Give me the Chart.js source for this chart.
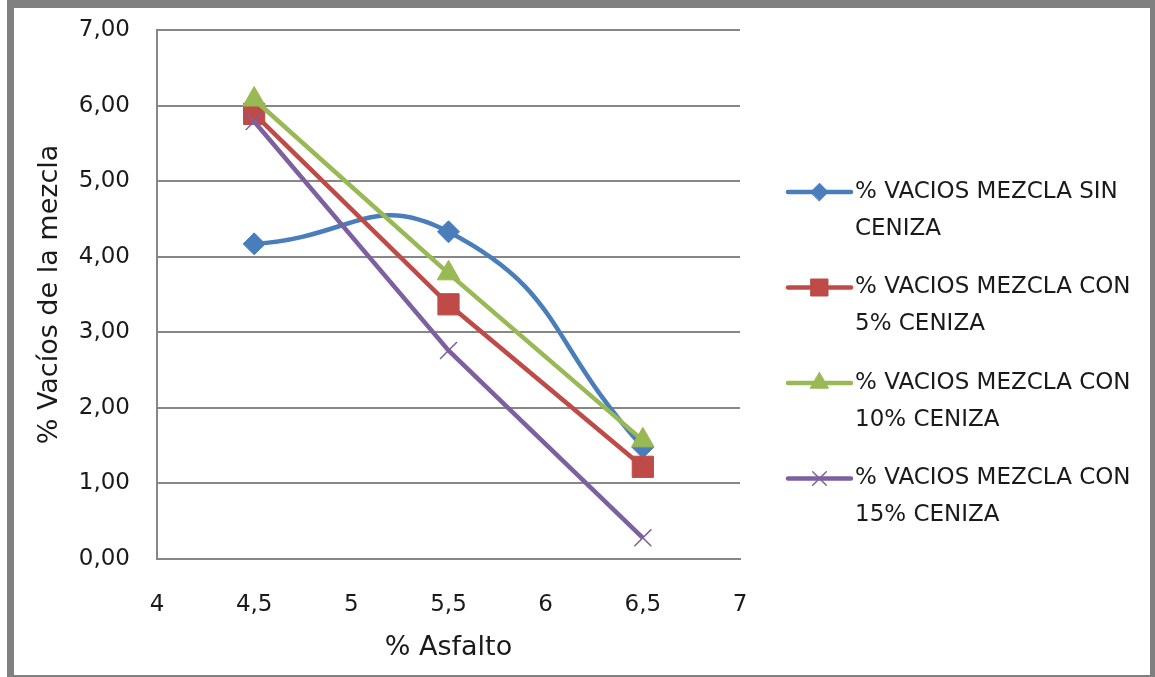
<!DOCTYPE html>
<html>
<head>
<meta charset="utf-8">
<script src="https://cdn.jsdelivr.net/npm/chart.js@4.4.1/dist/chart.umd.min.js"></script>
<style>
  html, body { margin: 0; padding: 0; background: #ffffff; }
  canvas { display: block; }
</style>
</head>
<body>
<canvas id="chart" width="1155" height="677"></canvas>
<script>
// % asphalt content (x values)
const asfalto = [4.5, 5.5, 6.5];

// % air voids for each mix
const sinCeniza = [4.17, 4.33, 1.48];
const con5Ceniza = [5.89, 3.37, 1.22];
const con10Ceniza = [6.08, 3.78, 1.57];
const con15Ceniza = [5.79, 2.76, 0.28];

const seriesNames = [
  ['% VACIOS MEZCLA SIN', 'CENIZA'],
  ['% VACIOS MEZCLA CON', '5% CENIZA'],
  ['% VACIOS MEZCLA CON', '10% CENIZA'],
  ['% VACIOS MEZCLA CON', '15% CENIZA']
];

const xTicks = [4, 4.5, 5, 5.5, 6, 6.5, 7];
const yTicks = [0, 1, 2, 3, 4, 5, 6, 7];

const FONT = '"DejaVu Sans", sans-serif';
const TEXT = '#1a1a1a';
const GRID = '#878787';

function pts(ys) { return asfalto.map((x, i) => ({ x: x, y: ys[i] })); }

const datasets = [
  { label: seriesNames[0].join(' '), data: pts(sinCeniza), borderColor: '#4a7ebb', backgroundColor: '#4a7ebb',
    pointStyle: 'rectRot', pointRadius: 11, tension: 0.5, order: 4 },
  { label: seriesNames[1].join(' '), data: pts(con5Ceniza), borderColor: '#be4b48', backgroundColor: '#be4b48',
    pointStyle: 'rect', pointRadius: 15, tension: 0, order: 3 },
  { label: seriesNames[2].join(' '), data: pts(con10Ceniza), borderColor: '#98b954', backgroundColor: '#98b954',
    pointStyle: 'triangle', pointRadius: 13, tension: 0, order: 2 },
  { label: seriesNames[3].join(' '), data: pts(con15Ceniza), borderColor: '#7d60a0', backgroundColor: '#7d60a0',
    pointStyle: 'crossRot', pointRadius: 12, pointBorderWidth: 1.5, tension: 0, order: 1 }
].map(d => Object.assign({ borderWidth: 4.5, pointBorderWidth: d.pointBorderWidth || 1, showLine: true, fill: false }, d));

// Outer gray frame and white page
const framePlugin = {
  id: 'frame',
  beforeDraw(chart) {
    const c = chart.ctx;
    c.save();
    c.fillStyle = '#ffffff';
    c.fillRect(0, 0, chart.width, chart.height);
    c.fillStyle = '#808080';
    c.fillRect(7, 0, chart.width - 7, 8);
    c.fillRect(7, 0, 7, chart.height);
    c.fillRect(chart.width - 5, 0, 5, chart.height);
    c.fillRect(7, chart.height - 2, chart.width - 7, 2);
    c.restore();
  }
};

// Two-line legend on the right side
const legendPlugin = {
  id: 'sideLegend',
  afterDraw(chart) {
    const c = chart.ctx;
    const x0 = 788, x1 = 851, tx = 855;
    const y0 = 192, step = 95.5, lh = 37;
    c.save();
    chart.data.datasets.forEach((ds, i) => {
      const y = y0 + i * step;
      c.strokeStyle = ds.borderColor;
      c.lineWidth = 4.5;
      c.lineCap = 'round';
      c.beginPath();
      c.moveTo(x0, y);
      c.lineTo(x1, y);
      c.stroke();
      c.fillStyle = ds.backgroundColor;
      c.strokeStyle = ds.borderColor;
      c.lineWidth = ds.pointBorderWidth;
      Chart.helpers.drawPoint(c, {
        pointStyle: ds.pointStyle,
        radius: ds.pointRadius * 0.8,
        borderWidth: ds.pointBorderWidth
      }, (x0 + x1) / 2, y);
      c.fillStyle = TEXT;
      c.font = '23px ' + FONT;
      c.textBaseline = 'middle';
      c.textAlign = 'left';
      seriesNames[i].forEach((line, k) => c.fillText(line, tx, y + k * lh));
    });
    c.restore();
  }
};

const fmt = (v, d) => Number(v).toFixed(d).replace('.', ',');

new Chart(document.getElementById('chart'), {
  type: 'scatter',
  data: { datasets: datasets },
  options: {
    responsive: false,
    animation: false,
    layout: { padding: { left: 0, top: 30, right: 415, bottom: 0 } },
    plugins: { legend: { display: false }, tooltip: { enabled: false } },
    scales: {
      x: {
        type: 'linear', min: 4, max: 7,
        afterBuildTicks(s) { s.ticks = xTicks.map(v => ({ value: v })); },
        afterFit(s) { s.height = 118; s.paddingLeft = 0; s.paddingRight = 0; },
        grid: { display: false, drawTicks: false },
        border: { display: true, color: GRID, width: 2 },
        ticks: { color: TEXT, font: { family: FONT, size: 23 }, padding: 32, autoSkip: false, maxRotation: 0,
                 callback: v => String(v).replace('.', ',') },
        title: { display: true, text: '% Asfalto', color: TEXT, font: { family: FONT, size: 27 }, padding: { top: 0, bottom: 13 } }
      },
      y: {
        type: 'linear', min: 0, max: 7,
        afterBuildTicks(s) { s.ticks = yTicks.map(v => ({ value: v })); },
        afterFit(s) { s.width = 157; s.paddingTop = 0; s.paddingBottom = 0; },
        grid: { color: GRID, lineWidth: 2, drawTicks: false },
        border: { display: true, color: GRID, width: 2 },
        ticks: { color: TEXT, font: { family: FONT, size: 23 }, padding: 27, callback: v => fmt(v, 2) },
        title: { display: true, text: '% Vacíos de la mezcla', color: TEXT, font: { family: FONT, size: 27 }, padding: { top: 34, bottom: 0 } }
      }
    }
  },
  plugins: [framePlugin, legendPlugin]
});
</script>
</body>
</html>
